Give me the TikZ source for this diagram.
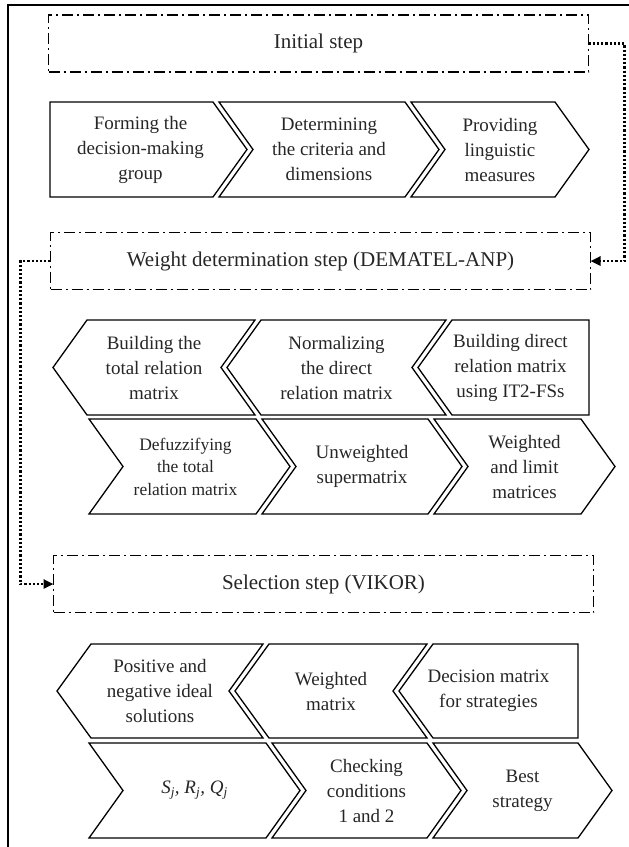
\documentclass[tikz,border=0pt]{standalone}
\usepackage{fontspec}
\setmainfont{Liberation Serif}
\usetikzlibrary{arrows.meta}

\def\chd{34}
\newcommand{\setrow}[2]{\def\rowtop{#1}\def\rowbot{#2}\pgfmathsetmacro\rowmid{(#1+#2)/2}}
\newcommand{\Lflat}[1]{(#1,\rowbot) -- (#1,\rowtop)}
\newcommand{\Lpoint}[1]{(#1+\chd,\rowbot) -- (#1,\rowmid) -- (#1+\chd,\rowtop)}
\newcommand{\Lnotch}[1]{(#1,\rowbot) -- (#1+\chd,\rowmid) -- (#1,\rowtop)}
\newcommand{\Rflat}[1]{(#1,\rowtop) -- (#1,\rowbot)}
\newcommand{\Rpoint}[1]{(#1-\chd,\rowtop) -- (#1,\rowmid) -- (#1-\chd,\rowbot)}
\newcommand{\Rnotch}[1]{(#1,\rowtop) -- (#1-\chd,\rowmid) -- (#1,\rowbot)}
\newcommand{\chev}[7][]{%
  \draw[piece] #3{#4} -- #5{#6} -- cycle;
  \node[ptext,#1] (#2) at ({(#4+#6)/2},\rowmid) {#7};}

\begin{document}
\begin{tikzpicture}[x=1pt, y=-1pt,
    piece/.style={draw, line width=1.3pt, line join=miter},
    ptext/.style={align=center, inner sep=0pt, text=black!85, font=\fontsize{19}{25}\selectfont},
    hdr/.style={draw, line width=1.2pt, dash pattern=on 11pt off 4pt on 2pt off 4pt,
      minimum width=540pt, minimum height=57pt, inner sep=0pt, outer sep=0pt,
      text=black!85, font=\fontsize{21}{25}\selectfont},
    link/.style={line width=2.4pt, dash pattern=on 2.2pt off 2pt,
      -{Triangle[length=10pt,width=9pt]}}]
  \useasboundingbox (0,0) rectangle (629,847);
  \begin{scope}
    \clip (0,0) rectangle (629,847);
    \draw[line width=2.2pt] (8,5) rectangle (660,880);
  \end{scope}

  \node[hdr] (init) at (318.5,43.5) {Initial step};
  \node[hdr] (weight) at (320.5,261) {Weight determination step (DEMATEL-ANP)};
  \node[hdr] (select) at (323.5,584) {Selection step (VIKOR)};

  \setrow{102}{197}
  \chev[xshift=-8pt]{form}{\Lflat}{50}{\Rpoint}{247}{Forming the\\decision-making\\group}
  \chev{crit}{\Lnotch}{219}{\Rpoint}{439}{Determining\\the criteria and\\dimensions}
  \chev{ling}{\Lnotch}{411}{\Rpoint}{589}{Providing\\linguistic\\measures}

  \setrow{320}{415}
  \chev{total}{\Lpoint}{53}{\Rnotch}{255}{Building the\\total relation\\matrix}
  \chev{norm}{\Lpoint}{227}{\Rnotch}{446}{Normalizing\\the direct\\relation matrix}
  \chev[xshift=7pt]{direct}{\Lpoint}{418}{\Rflat}{589}{Building direct\\relation matrix\\using IT2-FSs}

  \setrow{419}{514}
  \chev[xshift=-4pt, font=\fontsize{17.5}{22.5}\selectfont]{defuz}{\Lnotch}{89}{\Rpoint}{290}{Defuzzifying\\the total\\relation matrix}
  \chev{unw}{\Lnotch}{262}{\Rpoint}{462}{Unweighted\\supermatrix}
  \chev{limit}{\Lnotch}{434}{\Rpoint}{615}{Weighted\\and limit\\matrices}

  \setrow{644}{738}
  \chev{ideal}{\Lpoint}{57}{\Rnotch}{263}{Positive and\\negative ideal\\solutions}
  \chev{wmat}{\Lpoint}{235}{\Rnotch}{427}{Weighted\\matrix}
  \chev{dmat}{\Lpoint}{399}{\Rflat}{578}{Decision matrix\\for strategies}

  \setrow{743}{838}
  \chev{srq}{\Lnotch}{89}{\Rpoint}{300}{\itshape S\textsubscript{j}, R\textsubscript{j}, Q\textsubscript{j}}
  \chev{cond}{\Lnotch}{272}{\Rpoint}{461}{Checking\\conditions\\1 and 2}
  \chev{best}{\Lnotch}{433}{\Rpoint}{612}{Best\\strategy}

  \draw[link] (init.east) -- ++(36,0) |- (weight.east);
  \draw[link] (weight.west) -- ++(-30,0) |- (select.west);
\end{tikzpicture}
\end{document}
